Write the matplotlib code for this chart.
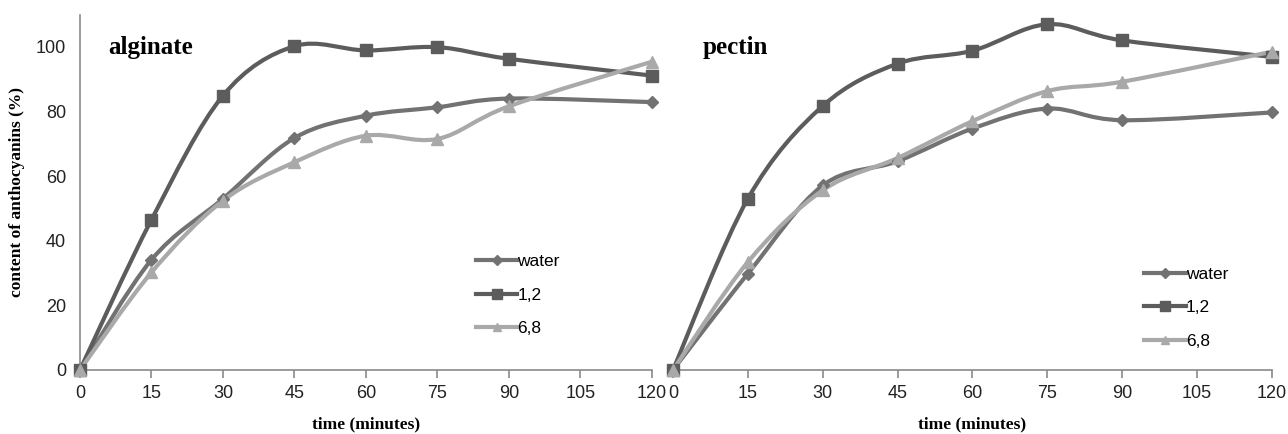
import numpy as np
import matplotlib.pyplot as plt
from matplotlib.path import Path
from matplotlib.patches import PathPatch
from matplotlib.lines import Line2D

time_min = [0, 15, 30, 45, 60, 75, 90, 120]
x_ticks = [0, 15, 30, 45, 60, 75, 90, 105, 120]
y_ticks = [0, 20, 40, 60, 80, 100]

# alginate beads
alg_water = [0, 34.1, 53.0, 71.8, 78.7, 81.3, 84.0, 82.9]
alg_12 = [0, 46.5, 84.9, 100.2, 98.9, 99.9, 96.3, 91.1]
alg_68 = [0, 30.2, 52.4, 64.3, 72.5, 71.5, 81.6, 95.4]

# pectin beads
pec_water = [0, 29.8, 57.1, 64.6, 74.7, 80.9, 77.3, 79.7]
pec_12 = [0, 53.0, 81.7, 94.8, 98.8, 107.0, 102.0, 96.9]
pec_68 = [0, 33.4, 55.6, 65.6, 77.0, 86.3, 89.2, 98.5]

labels = ['water', '1,2', '6,8']
colors = ['#727272', '#5c5c5c', '#a9a9a9']
markers = ['D', 's', '^']
msizes = [6.5, 8.5, 8]

serif = ['Liberation Serif', 'DejaVu Serif']
sans = ['Liberation Sans', 'DejaVu Sans']


def smooth_path(x, y):
    # Bezier segments through the points, like a spreadsheet "smoothed line"
    p = np.column_stack([x, y]).astype(float)
    n = len(p)
    verts = [p[0]]
    codes = [Path.MOVETO]
    for i in range(n - 1):
        p0 = p[i - 1] if i > 0 else p[i]
        p3 = p[i + 2] if i + 2 < n else p[i + 1]
        c1 = p[i] + (p[i + 1] - p0) / 6.0
        c2 = p[i + 1] - (p3 - p[i]) / 6.0
        verts += [c1, c2, p[i + 1]]
        codes += [Path.CURVE4] * 3
    return Path(verts, codes)


def draw_panel(ax, series, title, legend_pos, show_y):
    for vals, c, m, ms in zip(series, colors, markers, msizes):
        ax.add_patch(PathPatch(smooth_path(time_min, vals), fill=False,
                               edgecolor=c, lw=3, capstyle='round', zorder=2))
        ax.plot(time_min, vals, linestyle='none', marker=m, ms=ms,
                color=c, zorder=3, clip_on=False)
    ax.set_xlim(0, 120)
    ax.set_ylim(0, 110)
    ax.set_xticks(x_ticks)
    ax.set_yticks(y_ticks)
    for s in ['top', 'right']:
        ax.spines[s].set_visible(False)
    for s in ['left', 'bottom']:
        ax.spines[s].set_color('#8a8a8a')
        ax.spines[s].set_linewidth(1.2)
    ax.tick_params(axis='x', direction='out', length=6, width=1.2,
                   color='#8a8a8a', labelsize=13, pad=5, labelcolor='#222222')
    ax.tick_params(axis='y', direction='out', length=0, labelsize=13,
                   pad=10, labelcolor='#222222')
    for t in ax.get_xticklabels() + ax.get_yticklabels():
        t.set_family(sans)
    if not show_y:
        ax.spines['left'].set_visible(False)
        ax.tick_params(axis='y', left=False, labelleft=False)
    ax.set_xlabel('time (minutes)', family=serif, fontweight='bold',
                  fontsize=12.5, labelpad=10)
    ax.text(0.05, 0.89, title, transform=ax.transAxes, family=serif,
            fontweight='bold', fontsize=18, va='baseline')
    handles = [Line2D([], [], color=c, lw=3, marker=m, ms=ms * 0.8)
               for c, m, ms in zip(colors, markers, msizes)]
    ax.legend(handles, labels, loc='upper left', bbox_to_anchor=legend_pos,
              frameon=False, handlelength=2.4, handletextpad=0.0,
              labelspacing=1.05, prop={'family': sans, 'size': 12.5},
              borderaxespad=0)


fig = plt.figure(figsize=(12.88, 4.34), dpi=100)
ax1 = fig.add_axes([0.0621, 0.1475, 0.444, 0.819])
ax2 = fig.add_axes([0.5225, 0.1475, 0.465, 0.819])

draw_panel(ax1, [alg_water, alg_12, alg_68], 'alginate', (0.68, 0.345), True)
draw_panel(ax2, [pec_water, pec_12, pec_68], 'pectin', (0.775, 0.31), False)

ax1.set_ylabel('content of anthocyanins (%)', family=serif,
               fontweight='bold', fontsize=12.5, labelpad=8)

fig.savefig('out.png', dpi=100)
